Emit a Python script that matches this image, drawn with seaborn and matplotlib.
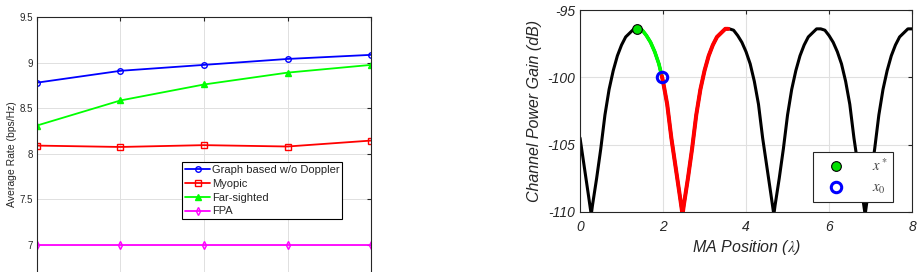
import matplotlib
matplotlib.use("Agg")
import matplotlib.pyplot as plt
import numpy as np
import pandas as pd
import seaborn as sns
from matplotlib.lines import Line2D
from matplotlib.ticker import FuncFormatter

# ---- left panel: average rate of each scheme
slots = [1, 2, 3, 4, 5]
rate_graph = [8.78, 8.91, 8.975, 9.04, 9.085]
rate_myopic = [8.09, 8.075, 8.095, 8.08, 8.145]
rate_far = [8.31, 8.585, 8.76, 8.89, 8.975]
rate_fpa = [7.0, 7.0, 7.0, 7.0, 7.0]

# ---- right panel: channel power gain along the MA track (read at 0.1 lambda steps)
ma_pos = np.round(np.linspace(0, 8, 81), 2)
ma_gain = [
    -104.5, -106.6, -108.7,
    -109.5, -107.5, -105.3, -102.8, -100.9, -99.5, -98.4, -97.6, -97.0, -96.7, -96.4,
    -96.4, -96.5, -96.9, -97.4, -98.1, -99.0, -100.3, -102.0, -104.5, -106.6, -108.7,
    -109.5, -107.5, -105.3, -102.8, -100.9, -99.5, -98.4, -97.6, -97.0, -96.7, -96.4,
    -96.4, -96.5, -96.9, -97.4, -98.1, -99.0, -100.3, -102.0, -104.5, -106.6, -108.7,
    -109.5, -107.5, -105.3, -102.8, -100.9, -99.5, -98.4, -97.6, -97.0, -96.7, -96.4,
    -96.4, -96.5, -96.9, -97.4, -98.1, -99.0, -100.3, -102.0, -104.5, -106.6, -108.7,
    -109.5, -107.5, -105.3, -102.8, -100.9, -99.5, -98.4, -97.6, -97.0, -96.7, -96.4,
    -96.4,
]
# extra readings at the nulls, the peaks and the start point
null_pos = [0.27, 2.47, 4.67, 6.87]
null_gain = [-110.2, -110.2, -110.2, -110.2]
peak_pos = [1.37, 3.57, 5.77, 7.97]
peak_gain = [-96.4, -96.4, -96.4, -96.4]
x_star = (1.37, -96.4)
x_zero = (1.97, -100.0)

sns.set_style("white")
plt.rcParams["font.family"] = ["Liberation Sans", "DejaVu Sans"]
plt.rcParams["axes.unicode_minus"] = False
plt.rcParams["mathtext.fontset"] = "stix"

AX_COLOR = "#262626"
GRID_COLOR = "#e0e0e0"

fig = plt.figure(figsize=(9.22, 2.72), dpi=100)

# ------------------------------------------------------------------ left
ax1 = fig.add_axes([0.0401, -0.0684, 0.3623, 1.0059])
series = [
    ("Graph based w/o Doppler", rate_graph, "#0000ff", "o", "none"),
    ("Myopic", rate_myopic, "#ff0000", "s", "none"),
    ("Far-sighted", rate_far, "#00ff00", "^", "#00ff00"),
    ("FPA", rate_fpa, "#ff00ff", "d", "none"),
]
for label, vals, col, mk, face in series:
    sns.lineplot(x=slots, y=vals, ax=ax1, color=col, lw=1.3, marker=mk,
                 ms=4, mfc=face, mec=col, mew=1.0, label=label)

ax1.set_xlim(1, 5)
ax1.set_ylim(6.5, 9.5)
ax1.set_xticks(slots)
ax1.set_yticks([7, 7.5, 8, 8.5, 9, 9.5])
ax1.yaxis.set_major_formatter(FuncFormatter(lambda v, p: f"{v:g}"))
ax1.tick_params(direction="in", top=True, right=True, length=3, width=0.8,
                colors=AX_COLOR, labelsize=7, pad=3)
ax1.tick_params(axis="x", labelbottom=False)
ax1.grid(True, color=GRID_COLOR, lw=0.7)
for sp in ax1.spines.values():
    sp.set_color(AX_COLOR)
    sp.set_linewidth(0.8)
ax1.set_xlabel("")
ax1.set_ylabel("Average Rate (bps/Hz)", fontsize=7.5, color=AX_COLOR, labelpad=2)

leg1 = ax1.legend(loc="upper left", bbox_to_anchor=(0.434, 0.470), borderaxespad=0,
                  fontsize=8, handlelength=2.3, handletextpad=0.15, labelspacing=0.35,
                  borderpad=0.25, fancybox=False, framealpha=1, edgecolor="black")
leg1.get_frame().set_linewidth(0.8)

# ------------------------------------------------------------------ right
ax2 = fig.add_axes([0.6291, 0.2206, 0.3601, 0.7426])
curve = pd.DataFrame({
    "pos": list(ma_pos) + null_pos + peak_pos + [x_zero[0]],
    "gain": list(ma_gain) + null_gain + peak_gain + [-99.9],
}).sort_values("pos")

sns.lineplot(data=curve, x="pos", y="gain", ax=ax2, color="black", lw=2.2,
             sort=True, estimator=None)
green_part = curve[(curve["pos"] >= x_star[0]) & (curve["pos"] <= x_zero[0])]
red_part = curve[(curve["pos"] >= x_zero[0]) & (curve["pos"] <= peak_pos[1])]
sns.lineplot(data=green_part, x="pos", y="gain", ax=ax2, color="#00ff00", lw=2.6,
             estimator=None)
sns.lineplot(data=red_part, x="pos", y="gain", ax=ax2, color="#ff0000", lw=2.9,
             estimator=None)
ax2.plot([x_star[0]], [x_star[1]], "o", ms=7, mfc="#00e000", mec="black", mew=0.8,
         zorder=5)
ax2.plot([x_zero[0]], [x_zero[1]], "o", ms=7.5, mfc="none", mec="#0000ff", mew=2.2,
         zorder=5)

ax2.set_xlim(0, 8)
ax2.set_ylim(-110, -95)
ax2.set_xticks([0, 2, 4, 6, 8])
ax2.set_yticks([-110, -105, -100, -95])
ax2.tick_params(direction="in", top=True, right=True, length=3, width=0.8,
                colors=AX_COLOR, labelsize=10)
ax2.tick_params(axis="y", pad=3.5)
ax2.tick_params(axis="x", pad=6)
for lab in ax2.get_xticklabels() + ax2.get_yticklabels():
    lab.set_fontstyle("italic")
ax2.grid(True, color=GRID_COLOR, lw=0.8)
for sp in ax2.spines.values():
    sp.set_color(AX_COLOR)
    sp.set_linewidth(0.8)
ax2.set_xlabel(r"MA Position ($\lambda$)", fontsize=11.5, fontstyle="italic",
               color=AX_COLOR, labelpad=3)
ax2.set_ylabel("Channel Power Gain (dB)", fontsize=11.5, fontstyle="italic",
               color=AX_COLOR, labelpad=4)

handles = [
    Line2D([], [], ls="none", marker="o", ms=7, mfc="#00e000", mec="black", mew=0.8),
    Line2D([], [], ls="none", marker="o", ms=7.5, mfc="none", mec="#0000ff", mew=2.2),
]
leg2 = ax2.legend(handles, [r"$x^*$", r"$x_{\mathit{0}}$"], loc="lower right",
                  bbox_to_anchor=(0.943, 0.05), borderaxespad=0, fontsize=10.5,
                  handlelength=2.3, handletextpad=1.3, labelspacing=0.45,
                  borderpad=0.4, fancybox=False, framealpha=1, edgecolor="#262626",
                  labelcolor="#404040")
leg2.get_frame().set_linewidth(0.8)

fig.savefig("out.png", dpi=100)
